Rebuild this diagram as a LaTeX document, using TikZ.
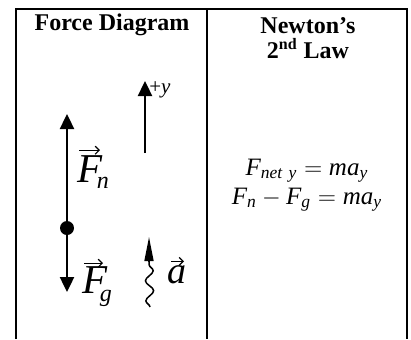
\documentclass[tikz,border=0pt]{standalone}
\usepackage{fontspec}
\setmainfont{Liberation Serif}
\usetikzlibrary{arrows.meta,decorations.pathmorphing}
% letter with a vector arrow: #1 letter, #2 raise, #3 shift, #4 arrow length
\newcommand{\vecltr}[4]{\makebox[0pt][l]{\hspace*{#3}\raisebox{#2}{\tikz\draw[line width=0.6pt,-{Straight Barb[length=2pt,width=4pt]}] (0pt,0pt) -- (#4,0pt);}}\textit{#1}}
\newcommand{\subltr}[3]{\kern#1\raisebox{#2}{\fontsize{12}{12}\selectfont\itshape #3}}
\begin{document}
\begin{tikzpicture}[x=0.5pt,y=-0.5pt,
  rule/.style={line width=1pt},
  force/.style={line width=1.2pt,-{Triangle[length=7.5pt,width=7pt]}},
  hdr/.style={font=\fontsize{12}{12.5}\selectfont\bfseries, align=center},
  eq/.style={font=\fontsize{12.5}{15}\selectfont, anchor=base},
  big/.style={font=\fontsize{20.5}{24}\selectfont, anchor=base west, inner sep=0pt},
]
\useasboundingbox (0,0) rectangle (411,339);
\draw[rule] (16,339) -- (16,9) -- (407,9) -- (407,339);
\draw[rule] (207,9) -- (207,339);
\node[hdr] (h1) at (112,25) {Force Diagram};
\node[hdr] (h2) at (308,38) {Newton’s\\2\textsuperscript{nd} Law};
% free body
\node[circle, fill, inner sep=0pt, minimum size=7pt] (dot) at (67,228) {};
\coordinate (ntip) at (67,114);
\coordinate (gtip) at (67,292);
\draw[force] (dot) -- (ntip);
\draw[force] (dot) -- (gtip);
\node[big] (fn) at (77,182) {\vecltr{F}{13.6pt}{0.5pt}{10.5pt}\subltr{-3pt}{-3pt}{n}};
\node[big] (fg) at (82,293) {\vecltr{F}{12.6pt}{0.5pt}{9.5pt}\subltr{-4pt}{-4pt}{g}};
% axis
\coordinate (ybase) at (145,153);
\coordinate (ytip) at (145,81);
\draw[force] (ybase) -- (ytip);
\node[font=\fontsize{10.5}{12}\selectfont, anchor=base west, inner sep=0pt] (ylab) at (149,93) {+\textit{y}};
% acceleration
\coordinate (abot) at (150,307);
\coordinate (amid) at (149,262);
\coordinate (atip) at (149,237);
\draw[line width=0.75pt, decorate, decoration={snake, amplitude=2pt, segment length=10pt}] (abot) -- (amid);
\draw[line width=0.75pt, -{Triangle[length=12pt,width=4.5pt]}] (amid) -- (atip);
\node[font=\fontsize{19}{22}\selectfont, anchor=base west, inner sep=0pt] (alab) at (167,283) {\vecltr{a}{8.5pt}{1.5pt}{6.5pt}};
% equations
\node[eq] (e1) at (307,175) {$\mathit{F}_{\mathit{net\ y}} = \mathit{ma}_{\mathit{y}}$};
\node[eq] (e2) at (307,204) {$\mathit{F}_{\mathit{n}} - \mathit{F}_{\mathit{g}} = \mathit{ma}_{\mathit{y}}$};
\end{tikzpicture}
\end{document}
